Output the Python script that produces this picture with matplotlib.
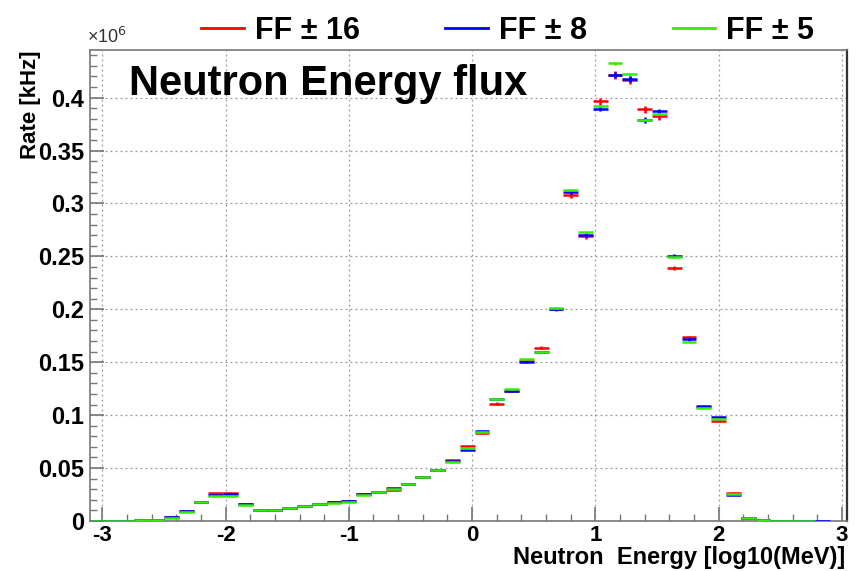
import matplotlib

matplotlib.use("Agg")

import numpy as np
import matplotlib.pyplot as plt
from matplotlib.lines import Line2D
from matplotlib.ticker import MultipleLocator, FormatStrFormatter

plt.rcParams["font.family"] = ["Liberation Sans", "DejaVu Sans"]
plt.rcParams["axes.unicode_minus"] = False

# log10(E/MeV) binning: 51 bins of 0.12 starting at -3.1
x_first_edge = -3.1
bin_width = 0.12

# rates in units of 1e6 kHz, one value per bin
rate_ff16 = [
    0.0001, 0.0001, 0.0002, 0.0008, 0.0012, 0.0041, 0.0095, 0.0182, 0.0264, 0.0268,
    0.0160, 0.0102, 0.0108, 0.0120, 0.0137, 0.0158, 0.0183, 0.0185, 0.0255, 0.0273,
    0.0292, 0.0350, 0.0418, 0.0478, 0.0579, 0.0705, 0.0835, 0.1110, 0.1230, 0.1516,
    0.1639, 0.2005, 0.3078, 0.2688, 0.3964, 0.4210, 0.4170, 0.3890, 0.3827, 0.2389,
    0.1734, 0.1075, 0.0946, 0.0265, 0.0030, 0.0010, 0.0002, 0.0002, 0.0002, 0.0000,
    0.0000,
]
rate_ff8 = [
    0.0001, 0.0001, 0.0002, 0.0008, 0.0012, 0.0035, 0.0098, 0.0180, 0.0250, 0.0252,
    0.0158, 0.0101, 0.0108, 0.0120, 0.0137, 0.0158, 0.0175, 0.0190, 0.0259, 0.0275,
    0.0307, 0.0354, 0.0418, 0.0481, 0.0565, 0.0674, 0.0854, 0.1151, 0.1224, 0.1500,
    0.1597, 0.2003, 0.3110, 0.2698, 0.3897, 0.4217, 0.4176, 0.3790, 0.3870, 0.2505,
    0.1715, 0.1091, 0.0980, 0.0250, 0.0028, 0.0010, 0.0002, 0.0002, 0.0002, 0.0002,
    0.0000,
]
rate_ff5 = [
    0.0001, 0.0001, 0.0002, 0.0008, 0.0012, 0.0025, 0.0085, 0.0176, 0.0235, 0.0240,
    0.0155, 0.0101, 0.0108, 0.0120, 0.0137, 0.0157, 0.0168, 0.0175, 0.0245, 0.0273,
    0.0305, 0.0352, 0.0415, 0.0478, 0.0553, 0.0686, 0.0845, 0.1151, 0.1246, 0.1528,
    0.1597, 0.2009, 0.3132, 0.2727, 0.3920, 0.4325, 0.4220, 0.3790, 0.3843, 0.2490,
    0.1692, 0.1066, 0.0962, 0.0255, 0.0032, 0.0010, 0.0002, 0.0002, 0.0002, 0.0000,
    0.0000,
]

# relative size of the vertical error bars
rel_err_ff16 = 0.009
rel_err_ff8 = 0.007
rel_err_ff5 = 0.003

series_labels = ["FF \u00b1 16", "FF \u00b1 8", "FF \u00b1 5"]
series_colors = ["#ff0000", "#0000ff", "#33ee00"]

fig = plt.figure(figsize=(8.65, 5.71), dpi=100)
ax = fig.add_axes([0.104, 0.0876, 0.875, 0.8248])

n_bins = len(rate_ff16)
centers = x_first_edge + bin_width * (np.arange(n_bins) + 0.5)

series = [
    (rate_ff16, rel_err_ff16, series_colors[0], 2),
    (rate_ff8, rel_err_ff8, series_colors[1], 3),
    (rate_ff5, rel_err_ff5, series_colors[2], 4),
]
for values, rel_err, color, z in series:
    values = np.asarray(values)
    mask = values > 0
    ax.errorbar(
        centers[mask],
        values[mask],
        xerr=bin_width / 2,
        yerr=values[mask] * rel_err,
        fmt="none",
        ecolor=color,
        elinewidth=1.8,
        capsize=0,
        zorder=z,
    )

ax.set_xlim(-3.1, 3.04)
ax.set_ylim(0, 0.445)

ax.xaxis.set_major_locator(MultipleLocator(1))
ax.xaxis.set_minor_locator(MultipleLocator(0.2))
ax.yaxis.set_major_locator(MultipleLocator(0.05))
ax.yaxis.set_minor_locator(MultipleLocator(0.01))
ax.yaxis.set_major_formatter(FormatStrFormatter("%g"))
ax.xaxis.set_major_formatter(FormatStrFormatter("%g"))

ax.tick_params(which="both", direction="in", color="#777777", top=False, right=False)
ax.tick_params(which="major", length=10, width=1.2, labelsize=17, pad=4)
ax.tick_params(axis="x", which="major", labelsize=16, pad=3)
ax.tick_params(which="minor", length=5, width=1.0)
for lab in ax.get_xticklabels() + ax.get_yticklabels():
    lab.set_fontweight("bold")

ax.grid(True, which="major", linestyle=(0, (1.5, 2.5)), color="#999999", linewidth=0.9)
ax.set_axisbelow(True)
for side in ["left", "bottom", "top"]:
    ax.spines[side].set_color("#777777")
    ax.spines[side].set_linewidth(1.2)
ax.spines["right"].set_color("#333333")
ax.spines["right"].set_linewidth(1.6)

fig.text(0.977, 0.013, "Neutron  Energy [log10(MeV)]", ha="right", va="baseline",
         fontsize=17, fontweight="bold")
fig.text(0.035, 0.912, "Rate [kHz]", rotation=90, ha="center", va="top",
         fontsize=16, fontweight="bold")
fig.text(0.101, 0.918, "\u00d710$^{6}$", ha="left", va="bottom", fontsize=13,
         color="#333333")

ax.text(0.052, 0.905, "Neutron Energy flux", transform=ax.transAxes, ha="left",
        va="baseline", fontsize=30, fontweight="bold")

handles = [Line2D([], [], color=c, linewidth=2) for c in series_colors]
leg = fig.legend(handles, series_labels, loc="upper center", bbox_to_anchor=(0.587, 1.02),
                 ncol=3, frameon=False, handlelength=1.4, handletextpad=0.35,
                 columnspacing=2.8, prop={"size": 22, "weight": "bold"})

fig.savefig("out.png", dpi=100)
